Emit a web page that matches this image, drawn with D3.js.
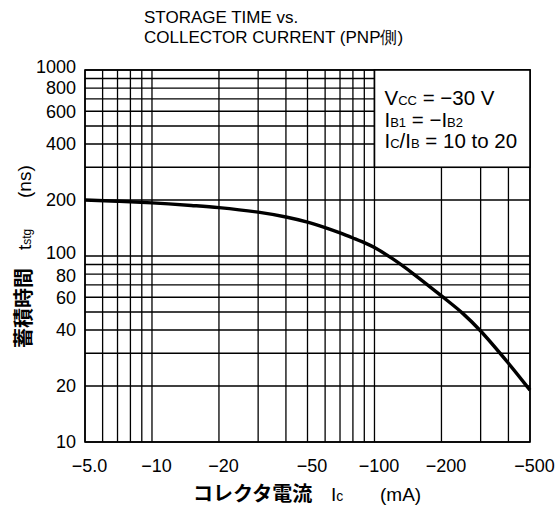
<!DOCTYPE html>
<html>
<head>
<meta charset="utf-8">
<script src="https://cdn.jsdelivr.net/npm/d3@7"></script>
<style>
  html, body { margin: 0; padding: 0; background: #fff; }
  svg { display: block; }
  text { font-family: "Liberation Sans", Arial, Helvetica, sans-serif; fill: #000; }
  .jp { font-family: "Noto Sans CJK JP", "Noto Sans", sans-serif; font-weight: 700; }
</style>
</head>
<body>
<svg id="chart" width="559" height="515"></svg>
<script>
// Collector current magnitude |Ic| (mA) and storage time tstg (ns)
const currentMA = [5, 7, 10, 15, 20, 30, 40, 50, 60, 70, 80, 90, 100, 120, 150, 200, 250, 300, 400, 500];
const storageNs = [200, 197, 193, 187, 182, 172, 162, 152, 142, 133, 125, 118, 111, 97, 80, 61, 49, 39.5, 26.5, 19];

// Grid lines of the log-log paper
const xGrid = [5, 6, 7, 8, 9, 10, 20, 30, 40, 50, 60, 70, 80, 90, 100, 200, 300, 400, 500];
const yGrid = [10, 20, 30, 40, 50, 60, 70, 80, 90, 100, 200, 300, 400, 500, 600, 700, 800, 900, 1000];

// Tick labels
const xTickVals = [5, 10, 20, 50, 100, 200, 500];
const xTickLabels = ["\u22125.0", "\u221210", "\u221220", "\u221250", "\u2212100", "\u2212200", "\u2212500"];
const yTickVals = [10, 20, 40, 60, 80, 100, 200, 400, 600, 800, 1000];
const yTickLabels = ["10", "20", "40", "60", "80", "100", "200", "400", "600", "800", "1000"];

// Condition box spans these data ranges
const boxX = [100, 500];
const boxY = [300, 1000];

const svg = d3.select("#chart");
const x = d3.scaleLog().domain([5, 500]).range([85, 530]);
const y = d3.scaleLog().domain([10, 1000]).range([442, 70]);

// Title
const title = svg.append("text").attr("x", 144).attr("font-size", 17);
title.append("tspan").attr("x", 144).attr("y", 23).text("STORAGE TIME vs.");
title.append("tspan").attr("x", 144).attr("y", 43).text("COLLECTOR CURRENT (PNP\u5074)");

// Grid
const grid = svg.append("g").attr("stroke", "#000").attr("stroke-width", 1.3);
grid.selectAll("line.v").data(xGrid).join("line")
  .attr("x1", d => x(d)).attr("x2", d => x(d))
  .attr("y1", y(10)).attr("y2", y(1000));
grid.selectAll("line.h").data(yGrid).join("line")
  .attr("x1", x(5)).attr("x2", x(500))
  .attr("y1", d => y(d)).attr("y2", d => y(d));

// Frame
svg.append("rect")
  .attr("x", x(5)).attr("y", y(1000))
  .attr("width", x(500) - x(5)).attr("height", y(10) - y(1000))
  .attr("fill", "none").attr("stroke", "#000").attr("stroke-width", 1.6);

// Test condition box
svg.append("rect")
  .attr("x", x(boxX[0])).attr("y", y(boxY[1]))
  .attr("width", x(boxX[1]) - x(boxX[0])).attr("height", y(boxY[0]) - y(boxY[1]))
  .attr("fill", "#fff").attr("stroke", "#000").attr("stroke-width", 1.6);

const bx = x(boxX[0]) + 10, by = y(boxY[1]);
const cond = svg.append("g").attr("font-size", 20.5);
const l1 = cond.append("text").attr("x", bx).attr("y", by + 35);
l1.append("tspan").text("V");
l1.append("tspan").attr("font-size", 13).text("CC");
l1.append("tspan").text(" = \u221230 V");
const l2 = cond.append("text").attr("x", bx).attr("y", by + 57);
l2.append("tspan").text("I");
l2.append("tspan").attr("font-size", 13).text("B1");
l2.append("tspan").text(" = \u2212I");
l2.append("tspan").attr("font-size", 13).text("B2");
const l3 = cond.append("text").attr("x", bx).attr("y", by + 78);
l3.append("tspan").text("I");
l3.append("tspan").attr("font-size", 13).text("C");
l3.append("tspan").text("/I");
l3.append("tspan").attr("font-size", 13).text("B");
l3.append("tspan").text(" = 10 to 20");

// Storage time curve
const pts = currentMA.map((c, i) => [c, storageNs[i]]);
svg.append("path")
  .datum(pts)
  .attr("fill", "none").attr("stroke", "#000").attr("stroke-width", 3.4)
  .attr("stroke-linejoin", "round")
  .attr("d", d3.line().x(d => x(d[0])).y(d => y(d[1])).curve(d3.curveCatmullRom.alpha(0.5)));

// Axes (labels only)
const xAxis = d3.axisBottom(x).tickValues(xTickVals)
  .tickFormat((d, i) => xTickLabels[i]).tickSize(0).tickPadding(0);
const gx = svg.append("g").attr("transform", `translate(4,${y(10) + 17})`).call(xAxis);
gx.select(".domain").remove();
gx.selectAll("text").attr("font-size", 18).attr("font-family", "Liberation Sans, Arial, sans-serif").attr("fill", "#000");

// Small vertical nudges keep the crowded labels near the top and at 80/100 apart
const yNudge = { 1000: -3, 100: -3, 80: 2 };
const yAxis = d3.axisLeft(y).tickValues(yTickVals)
  .tickFormat((d, i) => yTickLabels[i]).tickSize(0).tickPadding(0);
const gy = svg.append("g").attr("transform", `translate(76,0)`).call(yAxis);
gy.select(".domain").remove();
gy.selectAll("text").attr("font-size", 18).attr("font-family", "Liberation Sans, Arial, sans-serif").attr("fill", "#000")
  .attr("y", d => yNudge[d] || 0);

// X axis title
svg.append("text").attr("class", "jp").attr("x", 193).attr("y", 501).attr("font-size", 20).text("\u30b3\u30ec\u30af\u30bf\u96fb\u6d41");
const xi = svg.append("text").attr("x", 331).attr("y", 501).attr("font-size", 19);
xi.append("tspan").text("I");
xi.append("tspan").attr("font-size", 14).text("c");
svg.append("text").attr("x", 380).attr("y", 501).attr("font-size", 19).text("(mA)");

// Y axis title (rotated)
svg.append("text").attr("class", "jp").attr("font-size", 20)
  .attr("transform", "translate(31,348) rotate(-90)").text("\u84c4\u7a4d\u6642\u9593");
const yt = svg.append("text").attr("font-size", 19)
  .attr("transform", "translate(31,250) rotate(-90)");
yt.append("tspan").text("t");
yt.append("tspan").attr("font-size", 12).text("stg");
svg.append("text").attr("font-size", 19)
  .attr("transform", "translate(31,198) rotate(-90)").text("(ns)");
</script>
</body>
</html>
